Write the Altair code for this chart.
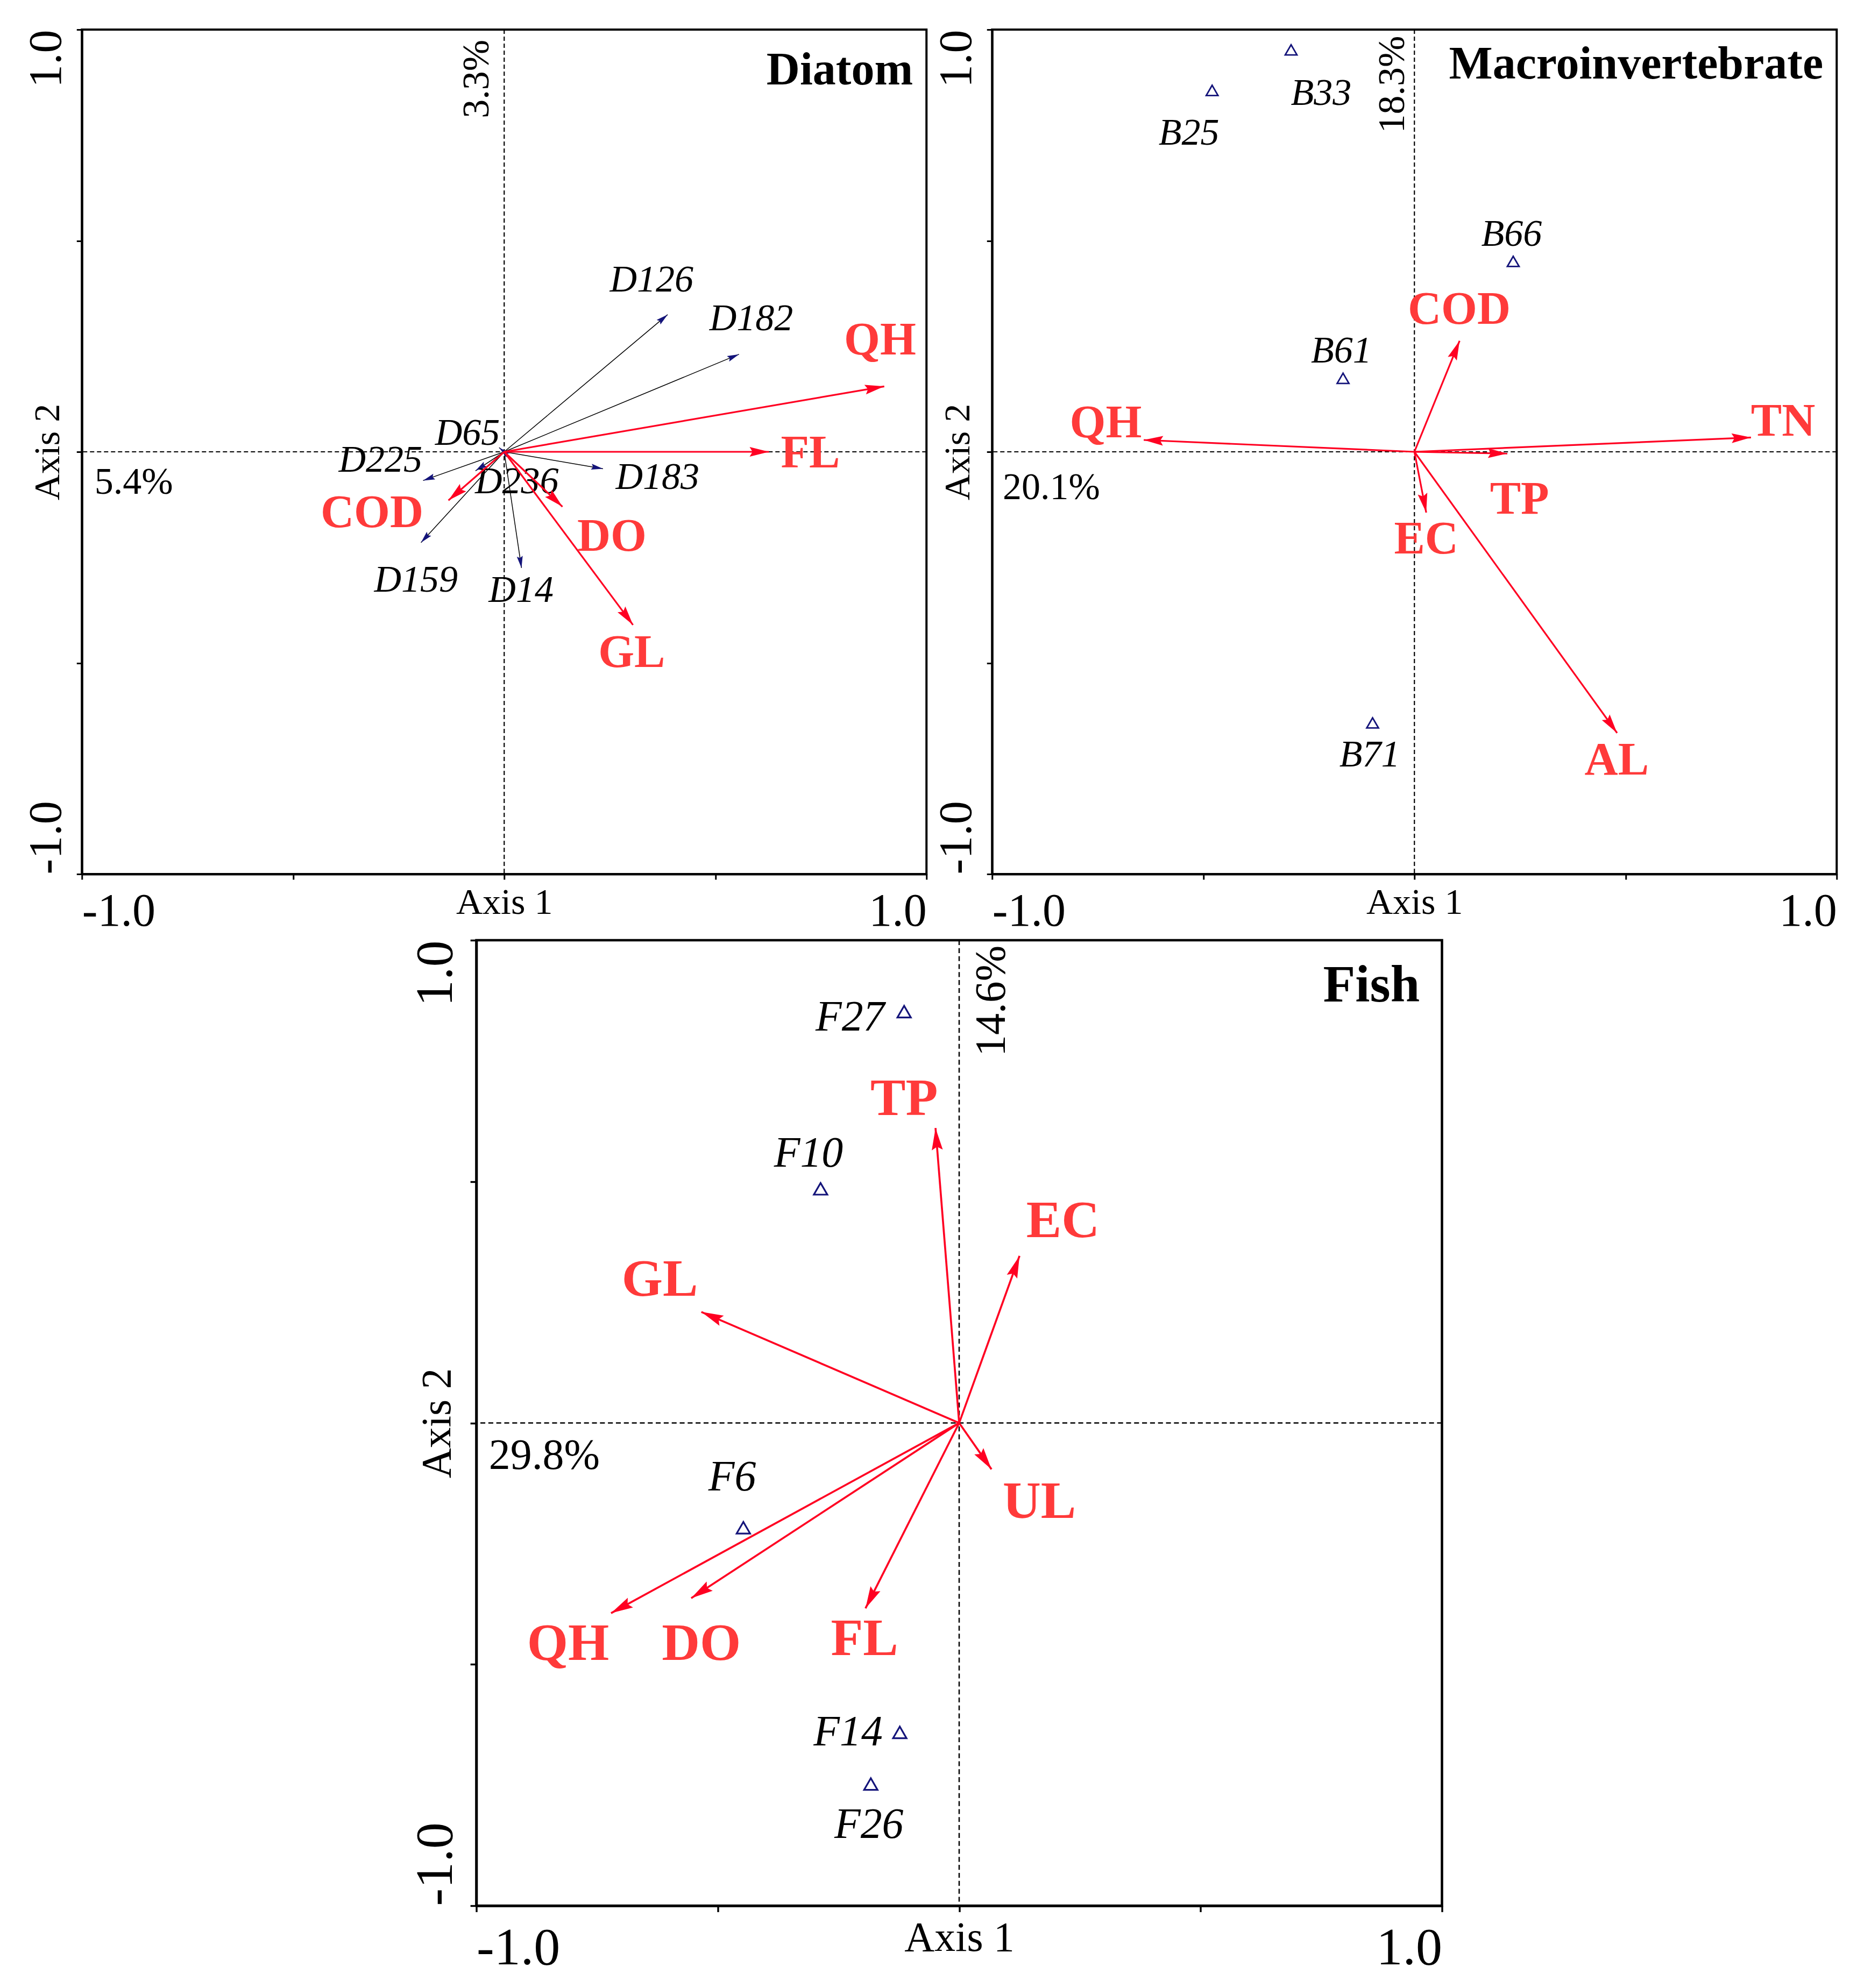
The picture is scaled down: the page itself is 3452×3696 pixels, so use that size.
import math
import altair as alt
import pandas as pd

SERIF = "Liberation Serif"
RED_LINE = "#ff0022"
RED_TEXT = "#ff3a3a"
NAVY = "#14147a"
HEAD = "M0,0L-2,-0.5L-1.7,0L-2,0.5Z"

# ---------------- Diatom ----------------
d_env = ["QH", "FL", "DO", "GL", "COD"]
d_env_x = [0.900, 0.627, 0.138, 0.305, -0.132]
d_env_y = [0.155, 0.000, -0.130, -0.410, -0.115]
d_env_lx = [0.890, 0.725, 0.255, 0.302, -0.313]
d_env_ly = [0.264, -0.004, -0.201, -0.477, -0.145]

d_sp = ["D126", "D182", "D183", "D14", "D159", "D225", "D236", "D65"]
d_sp_x = [0.387, 0.556, 0.234, 0.041, -0.197, -0.192, -0.068, -0.012]
d_sp_y = [0.325, 0.231, -0.040, -0.275, -0.215, -0.068, -0.045, 0.010]
d_sp_lx = [0.349, 0.585, 0.363, 0.040, -0.209, -0.293, 0.030, -0.087]
d_sp_ly = [0.407, 0.315, -0.061, -0.329, -0.305, -0.020, -0.071, 0.043]

# ---------------- Macroinvertebrate ----------------
m_env = ["QH", "TN", "TP", "COD", "EC", "AL"]
m_env_x = [-0.641, 0.797, 0.220, 0.107, 0.028, 0.480]
m_env_y = [0.028, 0.034, -0.004, 0.263, -0.144, -0.666]
m_env_lx = [-0.731, 0.873, 0.249, 0.106, 0.028, 0.479]
m_env_ly = [0.067, 0.071, -0.114, 0.336, -0.208, -0.731]

m_site = ["B25", "B33", "B66", "B61", "B71"]
m_site_x = [-0.479, -0.292, 0.234, -0.169, -0.099]
m_site_y = [0.856, 0.952, 0.451, 0.174, -0.642]
m_site_lx = [-0.534, -0.221, 0.230, -0.173, -0.106]
m_site_ly = [0.754, 0.849, 0.515, 0.238, -0.718]

# ---------------- Fish ----------------
f_env = ["TP", "EC", "GL", "UL", "QH", "DO", "FL"]
f_env_x = [-0.049, 0.125, -0.534, 0.067, -0.721, -0.555, -0.194]
f_env_y = [0.611, 0.346, 0.230, -0.096, -0.394, -0.363, -0.384]
f_env_lx = [-0.114, 0.215, -0.620, 0.166, -0.810, -0.534, -0.196]
f_env_ly = [0.670, 0.417, 0.296, -0.164, -0.458, -0.458, -0.449]

f_site = ["F27", "F10", "F6", "F14", "F26"]
f_site_x = [-0.114, -0.287, -0.447, -0.123, -0.183]
f_site_y = [0.852, 0.485, -0.217, -0.641, -0.748]
f_site_lx = [-0.226, -0.312, -0.470, -0.230, -0.187]
f_site_ly = [0.839, 0.558, -0.113, -0.641, -0.833]

# annotations: (text, x, y)
d_pct_h = ("5.4%", -0.970, -0.099)
d_pct_v = ("3.3%", -0.037, 0.976)
d_title = ("Diatom", 0.968, 0.870)
m_pct_h = ("20.1%", -0.975, -0.112)
m_pct_v = ("18.3%", -0.025, 0.985)
m_title = ("Macroinvertebrate", 0.968, 0.884)
f_pct_h = ("29.8%", -0.974, -0.095)
f_pct_v = ("14.6%", 0.095, 0.989)
f_title = ("Fish", 0.954, 0.873)

tick_values = [-1, -0.5, 0, 0.5, 1]
label_expr = "datum.value == 1 ? '1.0' : (datum.value == -1 ? '-1.0' : '')"


def vec_df(names, xs, ys, lxs, lys):
    df = pd.DataFrame({"name": names, "x": xs, "y": ys, "lx": lxs, "ly": lys})
    df["x0"] = 0.0
    df["y0"] = 0.0
    df["ang"] = [(math.degrees(math.atan2(-b, a)) + 360) % 360 for a, b in zip(xs, ys)]
    return df


def axes(k):
    common = dict(
        values=tick_values, labelExpr=label_expr, labelFont=SERIF,
        labelFontSize=86 * k, labelColor="black", labelOverlap=False,
        labelBaseline="alphabetic", tickSize=10 * k, tickWidth=3 * k,
        tickColor="black", domainColor="black", domainWidth=4 * k, grid=False,
        titleFont=SERIF, titleFontSize=68 * k, titleFontWeight="normal",
        titleColor="black", titleBaseline="alphabetic",
    )
    xa = alt.Axis(title="Axis 1", labelFlush=True, labelPadding=85 * k,
                  titleY=73 * k, **common)
    ya = alt.Axis(title="Axis 2", labelFlush=False, labelAngle=270,
                  labelAlign={"condition": {"test": "datum.value > 0", "value": "right"},
                              "value": "left"},
                  labelPadding=30 * k, titleAngle=270, titleX=-43 * k, **common)
    return xa, ya


def panel(k, size, env, sp=None, sites=None, pct_h=None, pct_v=None, title=None):
    sc = alt.Scale(domain=[-1, 1], nice=False, zero=False)
    xa, ya = axes(k)

    def X(f):
        return alt.X(f, type="quantitative", scale=sc, axis=xa)

    def Y(f):
        return alt.Y(f, type="quantitative", scale=sc, axis=ya)

    zero = pd.DataFrame({"v": [0.0]})
    dash = [8 * k, 5 * k]
    layers = [
        alt.Chart(zero).mark_rule(color="black", strokeWidth=2.2 * k, strokeDash=dash).encode(x=X("v")),
        alt.Chart(zero).mark_rule(color="black", strokeWidth=2.2 * k, strokeDash=dash).encode(y=Y("v")),
    ]
    if sp is not None:
        layers += [
            alt.Chart(sp).mark_rule(color="#000000", strokeWidth=1.5 * k).encode(
                x=X("x0"), y=Y("y0"), x2="x", y2="y"),
            alt.Chart(sp).mark_point(shape=HEAD, filled=True, size=(22 * k) ** 2, color=NAVY,
                                     opacity=1, strokeWidth=0).encode(
                x=X("x"), y=Y("y"), angle=alt.Angle("ang:Q", scale=None)),
            alt.Chart(sp).mark_text(font=SERIF, fontSize=70 * k, fontStyle="italic",
                                    color="black").encode(x=X("lx"), y=Y("ly"), text="name:N"),
        ]
    layers += [
        alt.Chart(env).mark_rule(color=RED_LINE, strokeWidth=3.2 * k).encode(
            x=X("x0"), y=Y("y0"), x2="x", y2="y"),
        alt.Chart(env).mark_point(shape=HEAD, filled=True, size=(36 * k) ** 2, color=RED_LINE,
                                  opacity=1, strokeWidth=0).encode(
            x=X("x"), y=Y("y"), angle=alt.Angle("ang:Q", scale=None)),
        alt.Chart(env).mark_text(font=SERIF, fontSize=86 * k, fontWeight="bold",
                                 color=RED_TEXT).encode(x=X("lx"), y=Y("ly"), text="name:N"),
    ]
    if sites is not None:
        layers += [
            alt.Chart(sites).mark_point(shape="triangle-up", filled=False, size=480 * k * k,
                                        strokeWidth=2.8 * k, color=NAVY, opacity=1).encode(
                x=X("x"), y=Y("y")),
            alt.Chart(sites).mark_text(font=SERIF, fontSize=70 * k, fontStyle="italic",
                                       color="black").encode(x=X("lx"), y=Y("ly"), text="name:N"),
        ]
    ph = pd.DataFrame({"t": [pct_h[0]], "x": [pct_h[1]], "y": [pct_h[2]]})
    pv = pd.DataFrame({"t": [pct_v[0]], "x": [pct_v[1]], "y": [pct_v[2]]})
    tt = pd.DataFrame({"t": [title[0]], "x": [title[1]], "y": [title[2]]})
    layers += [
        alt.Chart(ph).mark_text(font=SERIF, fontSize=70 * k, align="left", baseline="alphabetic",
                                color="black").encode(x=X("x"), y=Y("y"), text="t:N"),
        alt.Chart(pv).mark_text(font=SERIF, fontSize=70 * k, align="right", baseline="alphabetic",
                                angle=270, color="black").encode(x=X("x"), y=Y("y"), text="t:N"),
        alt.Chart(tt).mark_text(font=SERIF, fontSize=86 * k, fontWeight="bold", align="right",
                                baseline="alphabetic", color="black").encode(
            x=X("x"), y=Y("y"), text="t:N"),
    ]
    return alt.layer(*layers).properties(
        width=size, height=size,
        view=alt.ViewBackground(stroke="black", strokeWidth=4 * k, fill="white"),
    )


diatom = panel(1.0, 1570,
               vec_df(d_env, d_env_x, d_env_y, d_env_lx, d_env_ly),
               sp=vec_df(d_sp, d_sp_x, d_sp_y, d_sp_lx, d_sp_ly),
               pct_h=d_pct_h, pct_v=d_pct_v, title=d_title)

macro = panel(1.0, 1570,
              vec_df(m_env, m_env_x, m_env_y, m_env_lx, m_env_ly),
              sites=pd.DataFrame({"name": m_site, "x": m_site_x, "y": m_site_y,
                                  "lx": m_site_lx, "ly": m_site_ly}),
              pct_h=m_pct_h, pct_v=m_pct_v, title=m_title)

fish = panel(1.14, 1795,
             vec_df(f_env, f_env_x, f_env_y, f_env_lx, f_env_ly),
             sites=pd.DataFrame({"name": f_site, "x": f_site_x, "y": f_site_y,
                                 "lx": f_site_lx, "ly": f_site_ly}),
             pct_h=f_pct_h, pct_v=f_pct_v, title=f_title)

top = alt.hconcat(diatom, macro, spacing=7)
chart = alt.vconcat(top, fish, spacing=5, center=True).properties(
    padding={"left": 33, "top": 43, "right": 5, "bottom": 5}
).configure(font=SERIF, background="white").configure_view(stroke="black", strokeWidth=4)

chart.save("out.html", embed_options={"renderer": "svg", "actions": False})
